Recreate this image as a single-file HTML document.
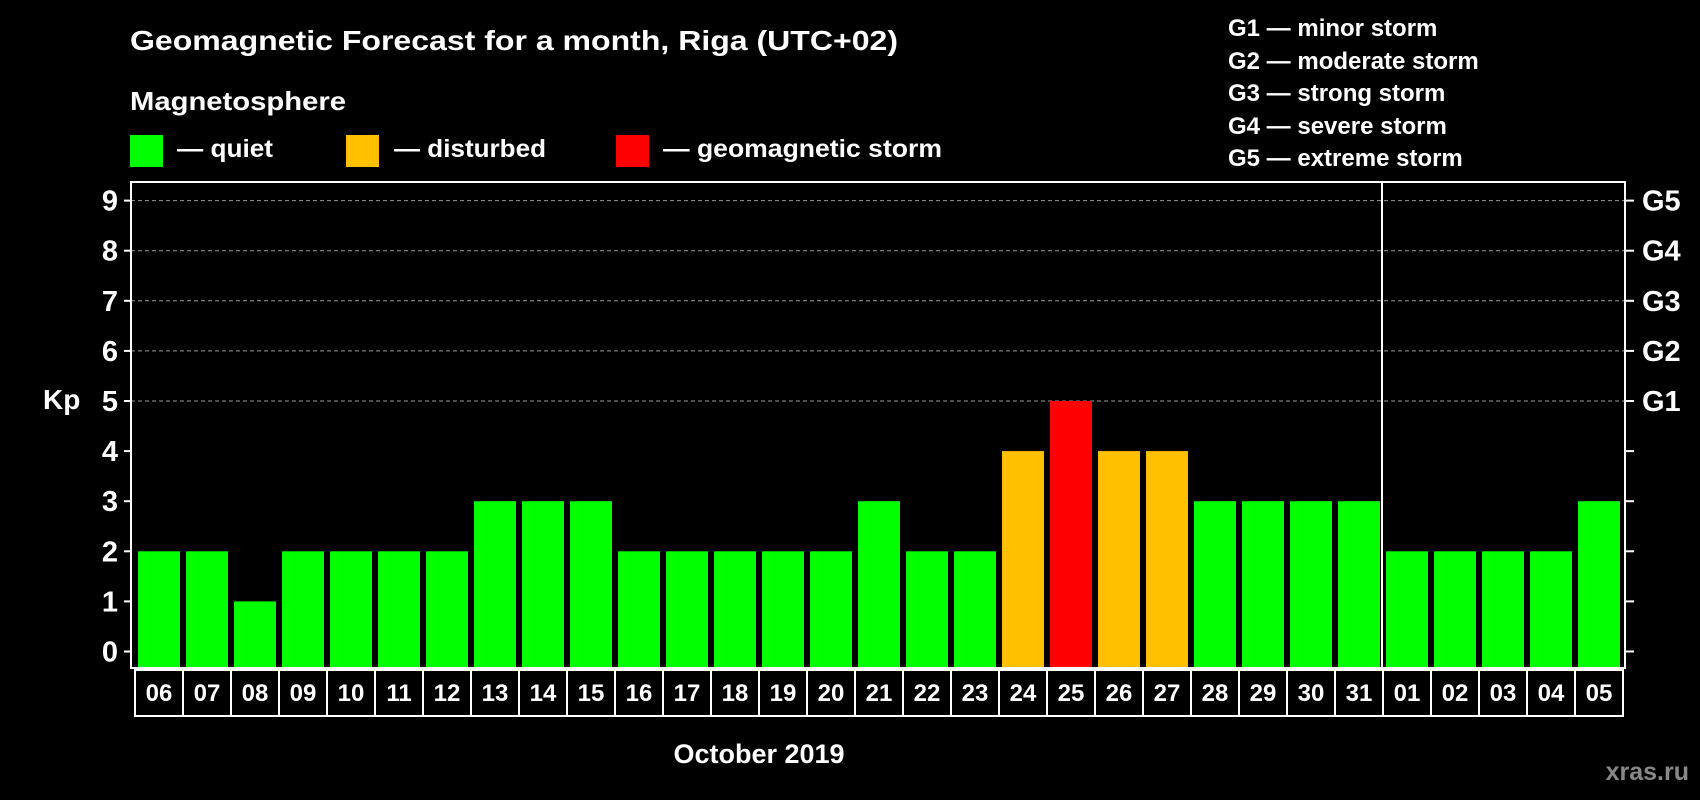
<!DOCTYPE html>
<html><head><meta charset="utf-8"><style>
html,body{margin:0;padding:0;background:#000;width:1700px;height:800px;overflow:hidden}
svg{display:block;font-family:"Liberation Sans",sans-serif;font-weight:bold}
</style></head><body>
<svg id="c" width="1700" height="800" viewBox="0 0 1700 800">
<rect x="0" y="0" width="1700" height="800" fill="#000"/>
<text x="130" y="50" fill="#fff" font-size="28" textLength="768" lengthAdjust="spacingAndGlyphs">Geomagnetic Forecast for a month, Riga (UTC+02)</text>
<text x="130" y="110" fill="#fff" font-size="26" textLength="216" lengthAdjust="spacingAndGlyphs">Magnetosphere</text>
<g><rect x="130" y="135" width="33" height="32" fill="#00ff00"/><text x="177" y="157" fill="#fff" font-size="25" textLength="96" lengthAdjust="spacingAndGlyphs">— quiet</text></g>
<g><rect x="346" y="135" width="33" height="32" fill="#ffc000"/><text x="394" y="157" fill="#fff" font-size="25" textLength="152" lengthAdjust="spacingAndGlyphs">— disturbed</text></g>
<g><rect x="616" y="135" width="33" height="32" fill="#ff0000"/><text x="663" y="157" fill="#fff" font-size="25" textLength="279" lengthAdjust="spacingAndGlyphs">— geomagnetic storm</text></g>
<g fill="#fff" font-size="24">
<text x="1228" y="36">G1 — minor storm</text>
<text x="1228" y="69">G2 — moderate storm</text>
<text x="1228" y="101">G3 — strong storm</text>
<text x="1228" y="134">G4 — severe storm</text>
<text x="1228" y="166">G5 — extreme storm</text>
</g>
<text x="43" y="409" fill="#fff" font-size="28">Kp</text>
<text x="759" y="763" fill="#fff" font-size="27" text-anchor="middle">October 2019</text>
<text x="1689" y="780" fill="#888" font-size="25" text-anchor="end">xras.ru</text>
<g id="plot"></g>
</svg>
<script>
const days = ["06","07","08","09","10","11","12","13","14","15","16","17","18","19","20","21","22","23","24","25","26","27","28","29","30","31","01","02","03","04","05"];
const kp = [2,2,1,2,2,2,2,3,3,3,2,2,2,2,2,3,2,2,4,5,4,4,3,3,3,3,2,2,2,2,3];
const yTicks = [0,1,2,3,4,5,6,7,8,9];
const gLabels = ["G1","G2","G3","G4","G5"];
const monthBreak = 26;

const NS = "http://www.w3.org/2000/svg";
const plot = document.getElementById("plot");
const L = 131, R = 1625, T = 182, B = 668;
const x0 = 135, step = 48;
function yS(v){ return 651.5 - v * (651.5 - 200.6) / 9; }
function xS(i){ return x0 + i * step; }
function mk(tag, attrs, parent){
  const e = document.createElementNS(NS, tag);
  for (const k in attrs) e.setAttribute(k, attrs[k]);
  (parent || plot).appendChild(e);
  return e;
}
function color(v){ return v >= 5 ? "#ff0000" : (v >= 4 ? "#ffc000" : "#00ff00"); }

yTicks.forEach(v => {
  if (v >= 5) {
    const g = mk("line", {x1: L, x2: R, y1: yS(v), y2: yS(v), stroke: "#999", "stroke-width": 1, "stroke-dasharray": "4,3"});
    
    
  }
});
kp.forEach((v, i) => {
  const b = mk("rect", {x: xS(i) + 3, y: yS(v), width: 42, height: B - yS(v), fill: color(v)});
  
  
});
const f = mk("rect", {x: L, y: T, width: R - L, height: B - T, fill: "none", stroke: "#fff", "stroke-width": 2});


const sep = mk("line", {x1: xS(monthBreak) - 1, x2: xS(monthBreak) - 1, y1: T, y2: B, stroke: "#fff", "stroke-width": 2});


yTicks.forEach(v => {
  const y = yS(v);
  mk("line", {x1: 124, x2: L, y1: y, y2: y, stroke: "#fff", "stroke-width": 2});
  mk("line", {x1: R, x2: 1634, y1: y, y2: y, stroke: "#fff", "stroke-width": 2});
  const t = mk("text", {x: 118, y: y + 10, fill: "#fff", "font-size": 29, "text-anchor": "end"});
  t.textContent = yTicks[v];
  
  
  if (v >= 5) {
    const g = mk("text", {x: 1642, y: y + 10, fill: "#fff", "font-size": 29});
    g.textContent = gLabels[v - 5];
    
    
  }
});
days.forEach((d, i) => {
  const r = mk("rect", {x: xS(i), y: 670, width: step, height: 46, fill: "none", stroke: "#fff", "stroke-width": 2});
  
  
  const t = mk("text", {x: xS(i) + step / 2, y: 701, fill: "#fff", "font-size": 24, "text-anchor": "middle"});
  t.textContent = d;
  
  
});
</script>
</body></html>
